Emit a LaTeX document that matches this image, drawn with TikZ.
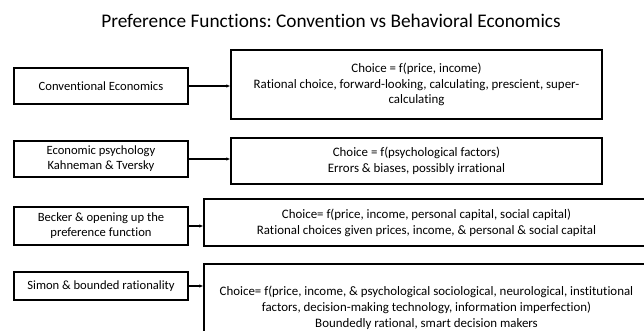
\documentclass[tikz,border=0pt]{standalone}
\usepackage{fontspec}
\setmainfont{Carlito}[Ligatures=NoCommon]
\frenchspacing
\usetikzlibrary{arrows.meta}

\begin{document}
\begin{tikzpicture}[x=1pt,y=-1pt,
		lbox/.style={draw,line width=1.4pt,minimum width=174pt,align=center,inner sep=0pt,font=\fontsize{12.6}{15}\selectfont},
		rbox/.style={draw,line width=1.4pt,align=center,inner sep=0pt,font=\fontsize{12.9}{15.8}\selectfont},
		link/.style={line width=1.2pt,-{Latex[length=4pt,width=3.5pt]}}]
		\useasboundingbox (0,0) rectangle (644,331);
		\clip (0,0) rectangle (644,331);
		\node (title) at (331,21) {\fontsize{19.3}{23}\selectfont Preference Functions: Convention vs Behavioral Economics};
		
		\node[lbox,minimum height=36pt] (conv) at (101,86) {Conventional Economics};
		\node[lbox,minimum height=36pt] (psy) at (101,159) {Economic psychology\\Kahneman \& Tversky};
		\node[lbox,minimum height=38pt] (becker) at (101,226) {Becker \& opening up the\\preference function};
		\node[lbox,minimum height=28pt] (simon) at (101,286) {Simon \& bounded rationality};
		
		\node[rbox,minimum width=371pt,minimum height=69pt] (convf) at (416.5,84.5) {Choice = f(price, income)\\Rational choice, forward-looking, calculating, prescient, super-\\calculating};
		\node[rbox,minimum width=371pt,minimum height=46pt] (psyf) at (416.5,161) {Choice = f(psychological factors)\\Errors \& biases, possibly irrational};
		\node[rbox,minimum width=445pt,minimum height=47pt] (beckerf) at (426.5,222.5) {Choice= f(price, income, personal capital, social capital)\\Rational choices given prices, income, \& personal \& social capital};
		\node[rbox,minimum width=445pt,minimum height=88pt] (simonf) at (426.5,308) {Choice= f(price, income, \& psychological sociological, neurological, institutional\\factors, decision-making technology, information imperfection)\\Boundedly rational, smart decision makers};
		
		\draw[link] (conv.east) -- (conv.east -| convf.west);
		\draw[link] (psy.east) -- (psy.east -| psyf.west);
		\draw[link] (becker.east) -- (becker.east -| beckerf.west);
		\draw[link] (simon.east) -- (simon.east -| simonf.west);
		
		\end{tikzpicture}
\end{document}
